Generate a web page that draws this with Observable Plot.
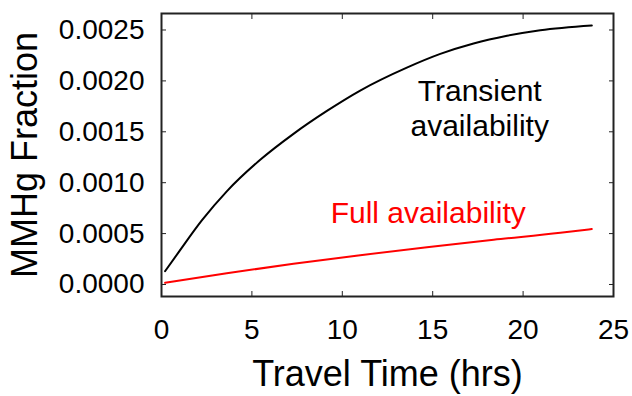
<!DOCTYPE html>
<html><head><meta charset="utf-8">
<script src="https://cdn.jsdelivr.net/npm/d3@7"></script>
<script src="https://cdn.jsdelivr.net/npm/@observablehq/plot@0.6"></script>
<style>body{margin:0;background:#fff}</style>
</head><body><div id="chart"></div>
<script>
// Transient availability (black)
const transientTime = [0.2, 1.0, 2.23, 3.61, 5.46, 7.30, 9.15, 10.99, 13.57, 15.42, 17.26, 19.11, 20.95, 23.8];
const transientFraction = [0.000131, 0.000330, 0.000629, 0.000915, 0.001225, 0.001480, 0.001705, 0.001905, 0.002130, 0.002265, 0.002367, 0.002443, 0.002498, 0.002545];
// Full availability (red)
const fullTime = [0.2, 3.61, 7.30, 10.99, 14.68, 18.37, 22.06, 23.8];
const fullFraction = [0.000017, 0.000111, 0.000203, 0.000288, 0.000366, 0.000439, 0.000508, 0.000545];
// Ticks
const xTicks = [0, 5, 10, 15, 20, 25];
const yTicks = [0, 0.0005, 0.0010, 0.0015, 0.0020, 0.0025];
// Annotations
const labelText = ["Transient\navailability", "Full availability"];
const labelTime = [17.6, 14.75];
const labelFraction = [0.00174, 0.000717];
const labelColor = ["black", "#ff0000"];
const xTitle = "Travel Time (hrs)";
const yTitle = "MMHg Fraction";

const transient = transientTime.map((t, i) => ({t, v: transientFraction[i]}));
const full = fullTime.map((t, i) => ({t, v: fullFraction[i]}));
const labels = labelText.map((s, i) => ({s, t: labelTime[i], v: labelFraction[i], c: labelColor[i]}));

const chart = Plot.plot({
  width: 632, height: 396,
  marginLeft: 161, marginRight: 19, marginTop: 13, marginBottom: 100,
  style: {fontFamily: "'Liberation Sans', Arial, sans-serif", background: "white", color: "black"},
  x: {domain: [0, 25]},
  y: {domain: [-0.000118, 0.002662]},
  marks: [
    Plot.line(transient, {x: "t", y: "v", stroke: "black", strokeWidth: 2, curve: "monotone-x"}),
    Plot.line(full, {x: "t", y: "v", stroke: "#ff0000", strokeWidth: 2, curve: "monotone-x"}),
    Plot.text(labels, {x: "t", y: "v", text: "s", fill: "c", fontSize: 30, lineHeight: 1.17}),
    Plot.axisX({anchor: "bottom", ticks: xTicks, tickSize: -5, tickPadding: 28, fontSize: 28, label: null, stroke: "#222"}),
    Plot.axisX({anchor: "top", ticks: xTicks, tickSize: -5, tickFormat: () => "", label: null, stroke: "#222"}),
    Plot.axisY({anchor: "left", ticks: yTicks, tickSize: -5, tickPadding: 22, fontSize: 28, tickFormat: d3.format(".4f"), label: null, stroke: "#222"}),
    Plot.axisY({anchor: "right", ticks: yTicks, tickSize: -5, tickFormat: () => "", label: null, stroke: "#222"}),
    Plot.text([xTitle], {frameAnchor: "bottom", lineAnchor: "middle", textAnchor: "middle", dy: 78, fontSize: 36, text: d => d}),
    Plot.text([yTitle], {frameAnchor: "left", lineAnchor: "middle", textAnchor: "middle", dx: -136, rotate: -90, fontSize: 36, text: d => d}),
    Plot.frame({stroke: "#222", strokeWidth: 2})
  ]
});
document.getElementById("chart").appendChild(chart);
</script>
</body></html>
